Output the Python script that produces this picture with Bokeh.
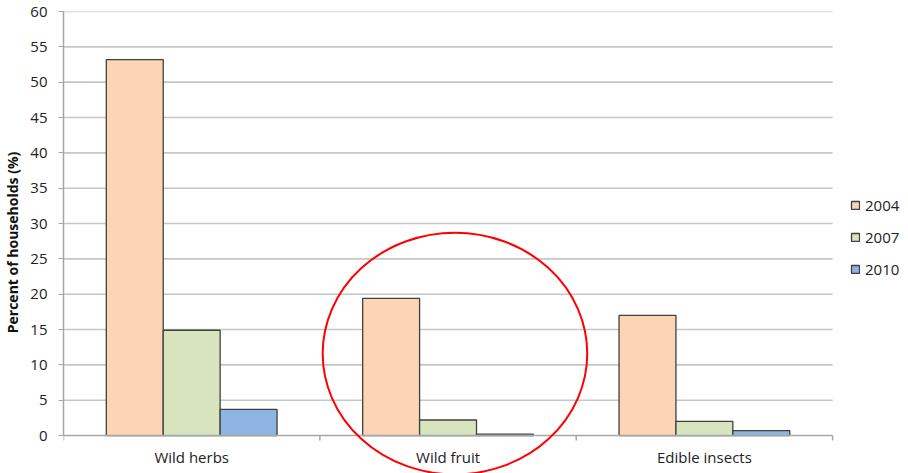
import numpy as np
from bokeh.plotting import figure
from bokeh.models import (ColumnDataSource, FixedTicker, Legend, LegendItem,
                          Range1d)
from bokeh.core.properties import value
from bokeh.embed import file_html
from bokeh.resources import INLINE

# Share of households gathering each wild food, by survey year
categories = ["Wild herbs", "Wild fruit", "Edible insects"]
years = ["2004", "2007", "2010"]
pct_2004 = [53.2, 19.4, 17.0]
pct_2007 = [14.9, 2.2, 2.0]
pct_2010 = [3.7, 0.2, 0.7]
y_ticks = list(range(0, 61, 5))

colors = ["#FCD5B5", "#D7E4BD", "#8EB4E3"]
series = [pct_2004, pct_2007, pct_2010]

FONT = "Open Sans"
AXIS_GREY = "#A6A6A6"
TEXT = "#222222"

# The frame covers the whole canvas below and to the right of the value axis,
# so the highlight ring and the legend are not clipped. The plotting area
# proper spans x = 0..3 (one unit per category) and y = 0..60.
N = len(categories)
PLOT_PX = 770
FRAME_PX = 908 - 62
X_HIGH = N * FRAME_PX / PLOT_PX
Y_LOW = -5.37
p = figure(width=908, height=473, output_backend="svg", toolbar_location=None,
           x_range=Range1d(0, X_HIGH), y_range=Range1d(Y_LOW, 60),
           x_axis_location=None,
           min_border_left=62, min_border_right=0, min_border_top=11,
           min_border_bottom=0)
p.outline_line_color = None
p.background_fill_color = "white"
p.border_fill_color = "white"
p.xgrid.grid_line_color = None
p.ygrid.grid_line_color = None

# Horizontal gridlines across the plotting area only
grid_y = [t for t in y_ticks if t > 0]
p.segment(x0=0, y0=grid_y, x1=N, y1=grid_y, line_color="#C6C6C6", line_width=1.6)

bar_w = 0.222
offsets = [-bar_w, 0.0, bar_w]
centers = np.arange(N) + 0.5
renderers = []
for vals, off, col in zip(series, offsets, colors):
    src = ColumnDataSource(dict(x=centers + off, top=vals))
    r = p.vbar(x="x", top="top", width=bar_w, bottom=0, source=src,
               fill_color=col, line_color="#404040", line_width=1.3)
    renderers.append(r)

# Category axis drawn by hand: baseline, tick marks between groups, labels
p.segment(x0=0, y0=0, x1=N, y1=0, line_color=AXIS_GREY, line_width=1.5)
bounds = np.arange(N + 1)
p.segment(x0=bounds, y0=0, x1=bounds, y1=-0.7, line_color=AXIS_GREY, line_width=1.5)
p.text(x=centers, y=0, text=categories, text_align="center",
       text_baseline="middle", y_offset=21, text_font=value(FONT),
       text_font_size="15px", text_color=TEXT)

# Highlight ring around the "Wild fruit" group
hi = categories.index("Wild fruit")
p.ellipse(x=hi + 0.527, y=11.6, width=1.032, height=34.2,
          fill_alpha=0, line_color="#FF0000", line_width=2)

ya = p.yaxis[0]
ya.bounds = (0, 60)
ya.ticker = FixedTicker(ticks=y_ticks)
ya.minor_tick_line_color = None
ya.major_tick_out = 5
ya.major_tick_in = 0
ya.major_tick_line_color = AXIS_GREY
ya.axis_line_color = AXIS_GREY
ya.axis_line_width = 1.5
ya.major_label_text_font = FONT
ya.major_label_text_font_size = "15px"
ya.major_label_text_color = TEXT
ya.major_label_standoff = 11
ya.axis_label = "Percent of households (%)"
ya.axis_label_text_font = FONT
ya.axis_label_text_font_size = "14px"
ya.axis_label_text_font_style = "bold"
ya.axis_label_text_color = "#111111"
ya.axis_label_standoff = 5

legend = Legend(items=[LegendItem(label=y, renderers=[r]) for y, r in zip(years, renderers)],
                location=(787, 194), orientation="vertical",
                label_text_font=FONT, label_text_font_size="15px",
                label_text_color=TEXT,
                glyph_width=10, glyph_height=10, label_height=16,
                spacing=12, padding=8, margin=0, label_standoff=5,
                border_line_color=None, background_fill_alpha=0)
p.add_layout(legend)

open("out.html", "w").write(file_html(p, INLINE))
